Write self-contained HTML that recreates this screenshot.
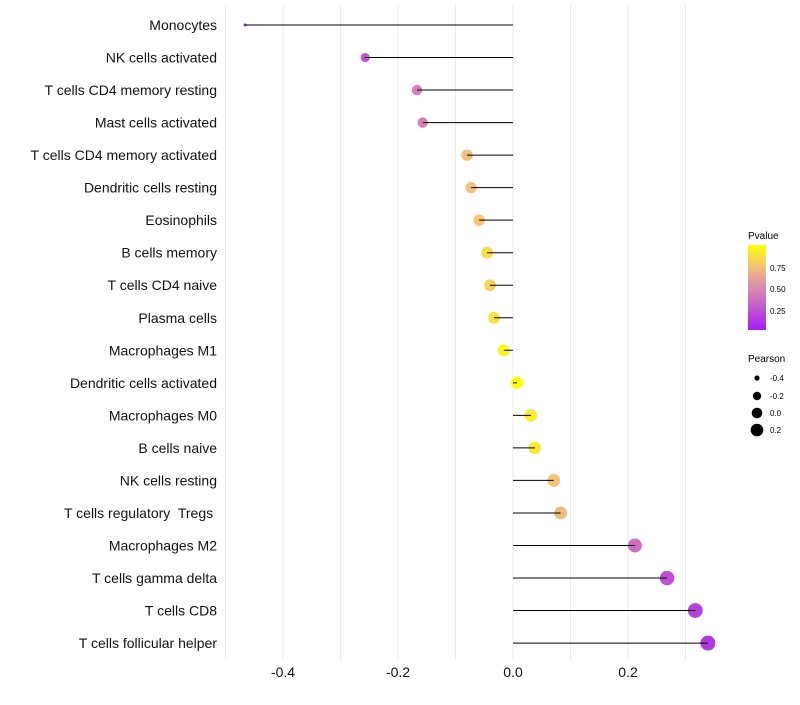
<!DOCTYPE html>
<html><head><meta charset="utf-8"><style>
body{margin:0;background:#fff;font-family:"Liberation Sans",sans-serif}
text{white-space:pre}
</style></head><body>
<svg id="chart" width="800" height="700" xmlns="http://www.w3.org/2000/svg">
<defs><linearGradient id="pg" x1="0" y1="1" x2="0" y2="0">
<stop offset="0" stop-color="#A41FF2"/><stop offset="0.5" stop-color="#DA8CAD"/><stop offset="0.75" stop-color="#F2C27A"/><stop offset="1" stop-color="#FFFF00"/></linearGradient></defs>
<g id="grid"></g><g id="marks"></g><g id="labels"></g>
<g>
<text x="748" y="239" font-size="10">Pvalue</text>
<rect x="748" y="245" width="18" height="85" fill="url(#pg)"/>
<text x="770" y="271" font-size="8">0.75</text>
<text x="770" y="292" font-size="8">0.50</text>
<text x="770" y="314" font-size="8">0.25</text>
</g>
<g>
<text x="748" y="362" font-size="10">Pearson</text>
<circle cx="757" cy="378" r="2.6" fill="#000"/><text x="770" y="381" font-size="8">-0.4</text>
<circle cx="757" cy="396" r="4.2" fill="#000"/><text x="770" y="399" font-size="8">-0.2</text>
<circle cx="757" cy="413" r="5.3" fill="#000"/><text x="770" y="416" font-size="8">0.0</text>
<circle cx="757" cy="430" r="6.3" fill="#000"/><text x="770" y="433" font-size="8">0.2</text>
</g>
</svg>
<script>
const cells=["Monocytes","NK cells activated","T cells CD4 memory resting","Mast cells activated","T cells CD4 memory activated","Dendritic cells resting","Eosinophils","B cells memory","T cells CD4 naive","Plasma cells","Macrophages M1","Dendritic cells activated","Macrophages M0","B cells naive","NK cells resting","T cells regulatory  Tregs ","Macrophages M2","T cells gamma delta","T cells CD8","T cells follicular helper"];
const pearson=[-0.466,-0.257,-0.167,-0.157,-0.080,-0.073,-0.059,-0.045,-0.040,-0.033,-0.016,0.007,0.031,0.038,0.071,0.083,0.212,0.268,0.317,0.339];
const pvalue=[0.02,0.24,0.44,0.46,0.74,0.74,0.76,0.86,0.82,0.88,0.96,1.0,0.92,0.9,0.76,0.72,0.36,0.22,0.16,0.13];
const xTicks=[-0.4,-0.2,0.0,0.2];
const NS="http://www.w3.org/2000/svg";
const X=v=>513+v*575;
const Y=i=>25+i*32.53;
const pmin=Math.min(...pearson),pmax=Math.max(...pearson);
const R=v=>1.5+6.0*Math.sqrt((v-pmin)/(pmax-pmin));
function lerp(a,b,t){return a.map((c,k)=>Math.round(c+(b[k]-c)*t));}
function col(p){const s=[[0,[164,31,242]],[0.5,[218,140,173]],[0.75,[242,194,122]],[1,[255,255,0]]];
for(let k=1;k<s.length;k++){if(p<=s[k][0]){const t=(p-s[k-1][0])/(s[k][0]-s[k-1][0]);return 'rgb('+lerp(s[k-1][1],s[k][1],t).join(',')+')';}}return 'rgb(255,255,0)';}
function mk(t,a,p){const e=document.createElementNS(NS,t);for(const k in a)e.setAttribute(k,a[k]);p.appendChild(e);return e;}
const grid=document.getElementById('grid'),marks=document.getElementById('marks'),labels=document.getElementById('labels');
for(let v=-0.5;v<=0.31;v+=0.1){const g=mk('line',{x1:X(v),x2:X(v),y1:5,y2:660,stroke:'#ebebeb','stroke-width':1},grid);

}
xTicks.forEach(v=>{const t=mk('text',{x:X(v),y:677,'font-size':14,'text-anchor':'middle',fill:'#111'},labels);t.textContent=v.toFixed(1);

});
cells.forEach((c,i)=>{
const t=mk('text',{x:217,y:Y(i)+5,'font-size':14,'text-anchor':'end',fill:'#111'},labels);t.textContent=c;


const d=mk('circle',{cx:X(pearson[i]),cy:Y(i),r:R(pearson[i]),fill:col(pvalue[i])},marks);


const l=mk('line',{x1:X(0),x2:X(pearson[i]),y1:Y(i),y2:Y(i),stroke:'#000','stroke-width':1},marks);


});
</script>
</body></html>
